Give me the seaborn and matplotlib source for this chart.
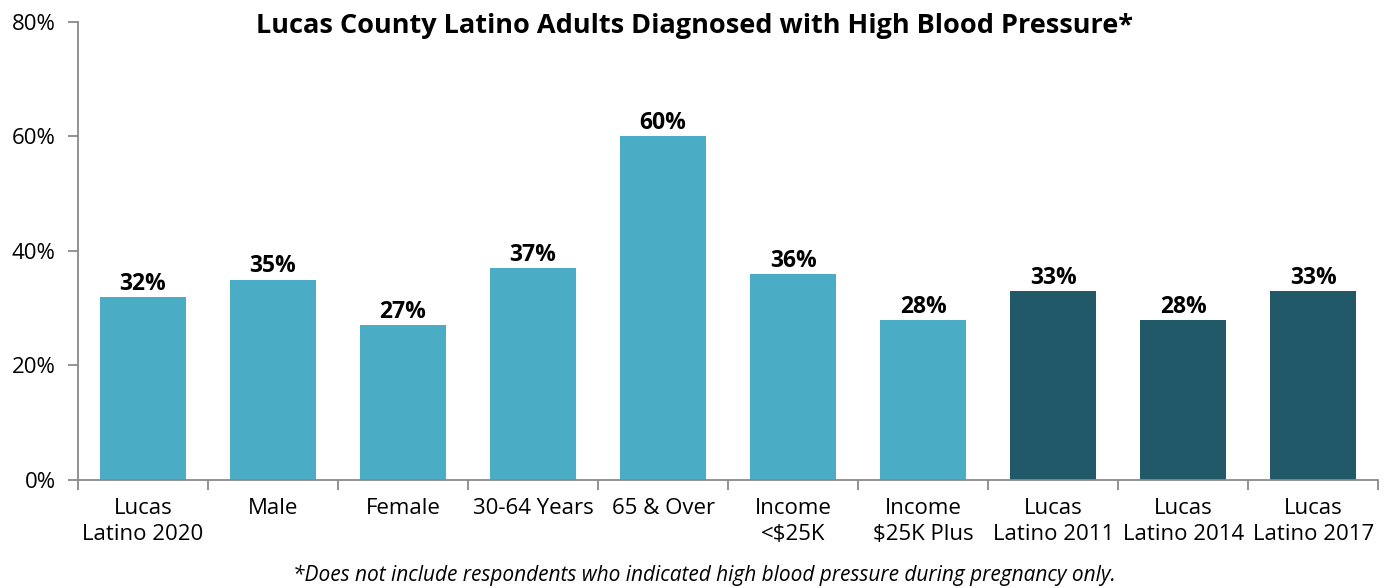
import numpy as np
import pandas as pd
import matplotlib
matplotlib.use("Agg")
import matplotlib.pyplot as plt
import seaborn as sns

# chart data
categories = ["Lucas\nLatino 2020", "Male", "Female", "30-64 Years", "65 & Over",
              "Income\n<$25K", "Income\n$25K Plus", "Lucas\nLatino 2011",
              "Lucas\nLatino 2014", "Lucas\nLatino 2017"]
values = [32, 35, 27, 37, 60, 36, 28, 33, 28, 33]
groups = ["current"] * 7 + ["past"] * 3
yticks = [0, 20, 40, 60, 80]

df = pd.DataFrame({"cat": categories, "val": values, "grp": groups})

sns.set_style("white")
plt.rcParams["font.family"] = ["Open Sans", "DejaVu Sans"]
plt.rcParams["text.color"] = "black"
plt.rcParams["xtick.color"] = "#898989"
plt.rcParams["ytick.color"] = "#898989"
plt.rcParams["xtick.labelcolor"] = "black"
plt.rcParams["ytick.labelcolor"] = "black"

fig = plt.figure(figsize=(13.87, 5.88), dpi=100)
ax = fig.add_axes([0.0562, 0.1837, 0.9375, 0.7789])

sns.barplot(data=df, x="cat", y="val", hue="grp", dodge=False, width=0.66,
            palette={"current": "#4BACC6", "past": "#215968"}, legend=False,
            saturation=1, linewidth=0, ax=ax)

for i, v in enumerate(values):
    ax.text(i, v + 0.2, f"{v}%", ha="center", va="bottom",
            fontsize=16.5, fontweight="bold", color="black")

ax.set_xlim(-0.5, len(categories) - 0.5)
ax.set_ylim(0, 80)
ax.set_yticks(yticks)
ax.set_yticklabels([f"{t}%" for t in yticks], fontsize=16)
ax.set_xticks(range(len(categories)))
ax.set_xticklabels(categories, fontsize=16, linespacing=1.3)
ax.set_xticks(np.arange(-0.5, len(categories)), minor=True)
ax.tick_params(axis="x", which="major", bottom=True, length=0, pad=13)
ax.tick_params(axis="x", which="minor", bottom=True, length=7, width=1.3, direction="out")
ax.tick_params(axis="y", left=True, length=7, width=1.3, direction="out", pad=9)
ax.set_xlabel("")
ax.set_ylabel("")

for s in ["top", "right"]:
    ax.spines[s].set_visible(False)
for s in ["left", "bottom"]:
    ax.spines[s].set_color("#898989")
    ax.spines[s].set_linewidth(1.3)

fig.text(0.501, 0.978, "Lucas County Latino Adults Diagnosed with High Blood Pressure*",
         ha="center", va="top", fontsize=19.5, fontweight="bold")
fig.text(0.508, 0.003, "*Does not include respondents who indicated high blood pressure during pregnancy only.",
         ha="center", va="bottom", fontsize=15, style="italic")

fig.savefig("out.png", dpi=100)
